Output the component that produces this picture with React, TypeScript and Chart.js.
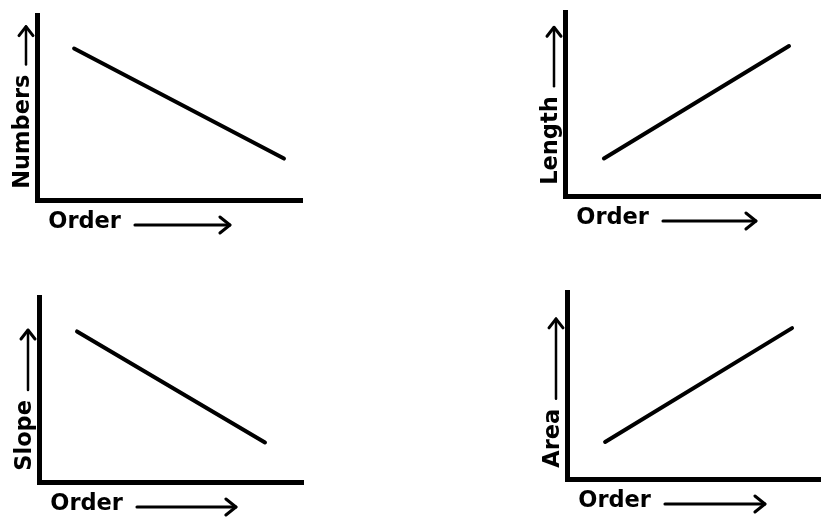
import { useEffect, useRef } from "react";
import { Chart, registerables } from "chart.js";

Chart.register(...registerables);

// ---- data ----
const xTitle = "Order";
const yTitles = ["Numbers", "Length", "Slope", "Area"];

const orderNumbers = [1.4, 9.32];
const numbersValues = [8.19, 2.24];

const orderLength = [1.52, 8.75];
const lengthValues = [2.04, 8.15];

const orderSlope = [1.44, 8.56];
const slopeValues = [8.14, 2.14];

const orderArea = [1.5, 8.86];
const areaValues = [1.98, 8.07];

// ---- layout / style ----
const INK = "#000000";
const FONT_FAMILY = "'DejaVu Sans', 'Liberation Sans', Arial, sans-serif";
const FONT_SIZE = 22.5;
const FONT_STR = `bold ${FONT_SIZE}px ${FONT_FAMILY}`;
const LEAD = "\u2002";

type PanelDef = {
  yTitle: string;
  xs: number[];
  ys: number[];
  left: number;
  top: number;
  width: number;
  height: number;
  area: { left: number; top: number; right: number; bottom: number };
  xArrowLen: number;
  yArrowLen: number;
};

const panels: PanelDef[] = [
  {
    yTitle: yTitles[0], xs: orderNumbers, ys: numbersValues,
    left: 0, top: 0, width: 320, height: 250,
    area: { left: 37, top: 15, right: 302, bottom: 200 },
    xArrowLen: 95, yArrowLen: 38,
  },
  {
    yTitle: yTitles[1], xs: orderLength, ys: lengthValues,
    left: 520, top: 0, width: 301, height: 250,
    area: { left: 565, top: 12, right: 821, bottom: 196 },
    xArrowLen: 93, yArrowLen: 59,
  },
  {
    yTitle: yTitles[2], xs: orderSlope, ys: slopeValues,
    left: 0, top: 260, width: 320, height: 257,
    area: { left: 39, top: 297, right: 303, bottom: 482 },
    xArrowLen: 99, yArrowLen: 60,
  },
  {
    yTitle: yTitles[3], xs: orderArea, ys: areaValues,
    left: 520, top: 260, width: 301, height: 257,
    area: { left: 567, top: 292, right: 821, bottom: 479 },
    xArrowLen: 100, yArrowLen: 80,
  },
];

const arrowPlugin = {
  id: "titleArrows",
  afterDraw(chart: any, _args: any, opts: any) {
    const { ctx, chartArea } = chart;
    const xs = chart.scales.x;
    const ys = chart.scales.y;
    ctx.save();
    ctx.font = FONT_STR;
    const xw = ctx.measureText(xs.options.title.text).width;
    const yw = ctx.measureText(ys.options.title.text).width;
    ctx.strokeStyle = INK;
    ctx.lineCap = "round";
    ctx.lineJoin = "round";

    // horizontal arrow after the x title
    const ay = chartArea.bottom + 25;
    const ax0 = chartArea.left + xw + 14;
    const ax1 = ax0 + opts.xLen;
    ctx.lineWidth = 3;
    ctx.beginPath();
    ctx.moveTo(ax0, ay);
    ctx.lineTo(ax1, ay);
    ctx.stroke();
    ctx.lineWidth = 3;
    ctx.beginPath();
    ctx.moveTo(ax1 - 10, ay - 8);
    ctx.lineTo(ax1, ay);
    ctx.lineTo(ax1 - 10, ay + 8);
    ctx.stroke();

    // vertical arrow above the y title
    const vx = chartArea.left - 11;
    const vy0 = chartArea.bottom - yw - 10;
    const vy1 = vy0 - opts.yLen;
    ctx.lineWidth = 2.5;
    ctx.beginPath();
    ctx.moveTo(vx, vy0);
    ctx.lineTo(vx, vy1);
    ctx.stroke();
    ctx.lineWidth = 3;
    ctx.beginPath();
    ctx.moveTo(vx - 7, vy1 + 9);
    ctx.lineTo(vx, vy1);
    ctx.lineTo(vx + 7, vy1 + 9);
    ctx.stroke();
    ctx.restore();
  },
};

function PanelChart({ p }: { p: PanelDef }) {
  const ref = useRef<HTMLCanvasElement | null>(null);
  useEffect(() => {
    if (!ref.current) return;
    const a = p.area;
    const cl = a.left - p.left;
    const ct = a.top - p.top;
    const cr = a.right - p.left;
    const cb = a.bottom - p.top;
    const yWidth = cl;
    const xHeight = p.height - cb;
    const half = FONT_SIZE / 2;
    const mid = 0.346 * FONT_SIZE;
    const font = { family: FONT_FAMILY, size: FONT_SIZE, weight: "bold" as const, lineHeight: 1 };

    const chart = new Chart(ref.current, {
      type: "line",
      data: {
        datasets: [
          {
            data: p.xs.map((x, i) => ({ x, y: p.ys[i] })),
            borderColor: INK,
            borderWidth: 4,
            borderCapStyle: "round",
            pointRadius: 0,
            tension: 0,
            fill: false,
          },
        ],
      },
      options: {
        animation: false,
        responsive: false,
        events: [],
        layout: {
          autoPadding: false,
          padding: { left: 0, top: ct, right: p.width - cr, bottom: 0 },
        },
        plugins: {
          legend: { display: false },
          tooltip: { enabled: false },
          titleArrows: { xLen: p.xArrowLen, yLen: p.yArrowLen },
        } as any,
        scales: {
          x: {
            type: "linear",
            min: 0,
            max: 10,
            grid: { display: false, drawTicks: false },
            ticks: { display: false },
            border: { display: true, width: 5, color: INK },
            title: {
              display: true,
              text: LEAD + xTitle,
              align: "start",
              color: INK,
              font,
              padding: { top: 0, bottom: xHeight - half - (30 - mid) },
            },
            afterFit: (s: any) => {
              s.height = xHeight;
            },
          },
          y: {
            type: "linear",
            min: 0,
            max: 10,
            grid: { display: false, drawTicks: false },
            ticks: { display: false },
            border: { display: true, width: 5, color: INK },
            title: {
              display: true,
              text: LEAD + p.yTitle,
              align: "start",
              color: INK,
              font,
              padding: { top: yWidth - 6 - mid - half, bottom: 0 },
            },
            afterFit: (s: any) => {
              s.width = yWidth;
            },
          },
        },
      } as any,
      plugins: [arrowPlugin as any],
    });
    return () => chart.destroy();
  }, [p]);

  return (
    <canvas
      ref={ref}
      width={p.width}
      height={p.height}
      style={{ position: "absolute", left: p.left, top: p.top, width: p.width, height: p.height }}
    />
  );
}

export default function App() {
  return (
    <div
      style={{
        position: "absolute",
        left: 0,
        top: 0,
        width: 821,
        height: 517,
        background: "#ffffff",
        overflow: "hidden",
      }}
    >
      {panels.map((p, i) => (
        <PanelChart key={i} p={p} />
      ))}
    </div>
  );
}
